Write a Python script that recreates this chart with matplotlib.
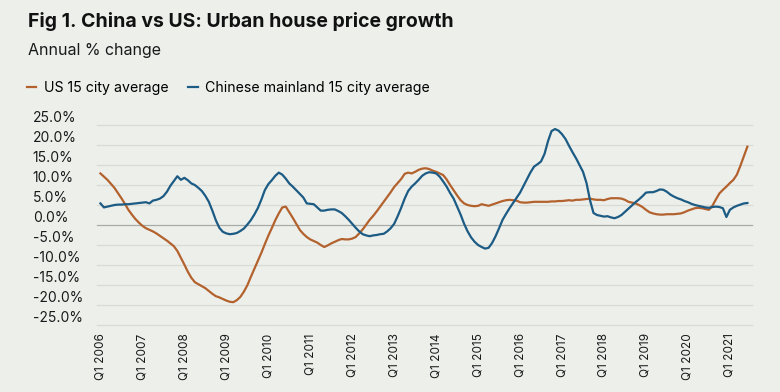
import matplotlib
matplotlib.use('Agg')
from matplotlib import pyplot as plt
import numpy as np

# monthly readings, Jan 2006 - Jun 2021 (annual % change)
us_15_city = [
    12.9, 12.1, 11.3, 10.3, 9.3, 8.0, 6.7, 5.3, 3.8, 2.6, 1.5, 0.6,
    -0.2, -0.8, -1.2, -1.6, -2.1, -2.7, -3.3, -3.9, -4.6, -5.3, -6.5, -8.2,
    -9.9, -11.7, -13.2, -14.3, -14.8, -15.3, -15.8, -16.5, -17.2, -17.8, -18.1, -18.5,
    -18.9, -19.2, -19.3, -18.8, -18.0, -16.7, -15.1, -13.0, -11.0, -9.0, -7.0, -4.8,
    -2.7, -0.8, 1.2, 2.9, 4.4, 4.6, 3.2, 1.8, 0.3, -1.2, -2.2, -3.0,
    -3.6, -4.0, -4.4, -5.0, -5.5, -5.1, -4.6, -4.2, -3.8, -3.5, -3.6, -3.6,
    -3.4, -3.0, -2.1, -1.1, 0.1, 1.3, 2.3, 3.4, 4.6, 5.8, 7.0, 8.2,
    9.5, 10.5, 11.5, 12.8, 13.1, 12.9, 13.3, 13.8, 14.1, 14.2, 14.0, 13.6,
    13.3, 12.9, 12.5, 11.4, 10.0, 8.7, 7.4, 6.2, 5.4, 5.0, 4.8, 4.7,
    4.8, 5.2, 5.0, 4.8, 5.1, 5.4, 5.7, 6.0, 6.2, 6.3, 6.2, 6.1,
    5.7, 5.6, 5.6, 5.7, 5.8, 5.8, 5.8, 5.8, 5.8, 5.9, 5.9, 6.0,
    6.0, 6.1, 6.2, 6.1, 6.3, 6.3, 6.4, 6.5, 6.6, 6.4, 6.3, 6.3,
    6.2, 6.5, 6.7, 6.7, 6.7, 6.6, 6.3, 5.8, 5.6, 5.4, 5.0, 4.5,
    3.8, 3.2, 2.9, 2.7, 2.6, 2.6, 2.7, 2.7, 2.7, 2.8, 2.9, 3.2,
    3.6, 3.9, 4.2, 4.3, 4.2, 4.0, 3.8, 4.8, 6.4, 7.9, 8.8, 9.6,
    10.5, 11.3, 12.6, 14.8, 17.2, 19.6,
]
china_15_city = [
    5.4, 4.4, 4.6, 4.8, 5.0, 5.1, 5.1, 5.2, 5.2, 5.3, 5.4, 5.5,
    5.6, 5.7, 5.4, 6.1, 6.3, 6.6, 7.2, 8.3, 9.8, 11.0, 12.2, 11.3,
    11.8, 11.2, 10.4, 10.0, 9.3, 8.5, 7.3, 5.8, 3.6, 1.2, -0.7, -1.7,
    -2.1, -2.3, -2.2, -2.0, -1.5, -0.9, 0.1, 1.2, 2.6, 4.2, 6.3, 8.7,
    10.2, 11.2, 12.3, 13.1, 12.6, 11.6, 10.4, 9.6, 8.7, 7.8, 6.9, 5.4,
    5.3, 5.2, 4.4, 3.6, 3.6, 3.8, 3.9, 3.9, 3.5, 3.0, 2.2, 1.3,
    0.3, -0.7, -1.6, -2.3, -2.6, -2.8, -2.6, -2.5, -2.3, -2.2, -1.6, -0.8,
    0.3, 2.2, 4.3, 6.6, 8.5, 9.6, 10.4, 11.3, 12.3, 12.9, 13.2, 13.1,
    12.9, 12.1, 10.9, 9.6, 8.0, 6.6, 4.6, 2.6, 0.3, -1.6, -3.1, -4.2,
    -5.0, -5.5, -5.9, -5.7, -4.5, -2.8, -0.8, 1.3, 2.8, 4.2, 5.5, 6.8,
    8.1, 9.8, 11.5, 13.2, 14.6, 15.2, 15.9, 17.8, 21.0, 23.5, 24.0, 23.6,
    22.7, 21.5, 19.8, 18.2, 16.7, 15.0, 13.3, 10.5, 6.2, 3.0, 2.5, 2.3,
    2.1, 2.2, 1.9, 1.7, 2.0, 2.5, 3.3, 4.1, 4.9, 5.7, 6.4, 7.2,
    8.1, 8.2, 8.2, 8.5, 8.9, 8.8, 8.3, 7.6, 7.1, 6.7, 6.4, 6.0,
    5.7, 5.3, 5.0, 4.8, 4.6, 4.4, 4.3, 4.5, 4.6, 4.5, 4.2, 2.0,
    3.8, 4.4, 4.8, 5.1, 5.4, 5.5,
]
tick_labels = ['Q1 {}'.format(y) for y in range(2006, 2022)]
y_ticks = [25, 20, 15, 10, 5, 0, -5, -10, -15, -20, -25]

bg = '#edefeb'
us_color = '#b3622e'
cn_color = '#1c5b84'

plt.rcParams['font.family'] = ['Inter', 'DejaVu Sans']

fig = plt.figure(figsize=(7.8, 3.92), dpi=100, facecolor=bg)
ax = fig.add_axes([0.124, 0.171, 0.84, 0.510], facecolor=bg)

months = np.arange(len(us_15_city))
ax.plot(months, us_15_city, color=us_color, lw=1.6, label='US 15 city average', zorder=3)
ax.plot(months, china_15_city, color=cn_color, lw=1.6, label='Chinese mainland 15 city average', zorder=3)

ax.set_xlim(-1.06, 186.3)
ax.set_ylim(-25, 25)

for v in y_ticks:
    ax.axhline(v, color='#a9aba7' if v == 0 else '#d9dbd6', lw=0.9, zorder=1, clip_on=False)

ax.set_yticks(y_ticks)
ax.set_yticklabels(['{:.1f}%'.format(v) for v in y_ticks])
ax.tick_params(axis='y', length=0, pad=46, labelsize=10, labelcolor='#1a1a1a')
for lab in ax.get_yticklabels():
    lab.set_horizontalalignment('left')
    lab.set_verticalalignment('bottom')

ax.set_xticks(np.arange(0, len(us_15_city), 12))
ax.set_xticklabels(tick_labels, rotation=90)
ax.tick_params(axis='x', length=0, pad=6, labelsize=8.5, labelcolor='#1a1a1a')

for s in ax.spines.values():
    s.set_visible(False)

fig.text(0.036, 0.944, 'Fig 1. China vs US: Urban house price growth',
         fontsize=14, fontweight='bold', va='center', ha='left', color='#111111')
fig.text(0.036, 0.870, 'Annual % change', fontsize=11.5, va='center', ha='left', color='#1a1a1a')

fig.legend(loc='center left', bbox_to_anchor=(0.034, 0.775), ncol=2, frameon=False,
           handlelength=0.7, handletextpad=0.5, columnspacing=1.4, fontsize=10.2,
           borderaxespad=0, borderpad=0)

plt.savefig('out.png', dpi=100, facecolor=bg)
plt.close()
